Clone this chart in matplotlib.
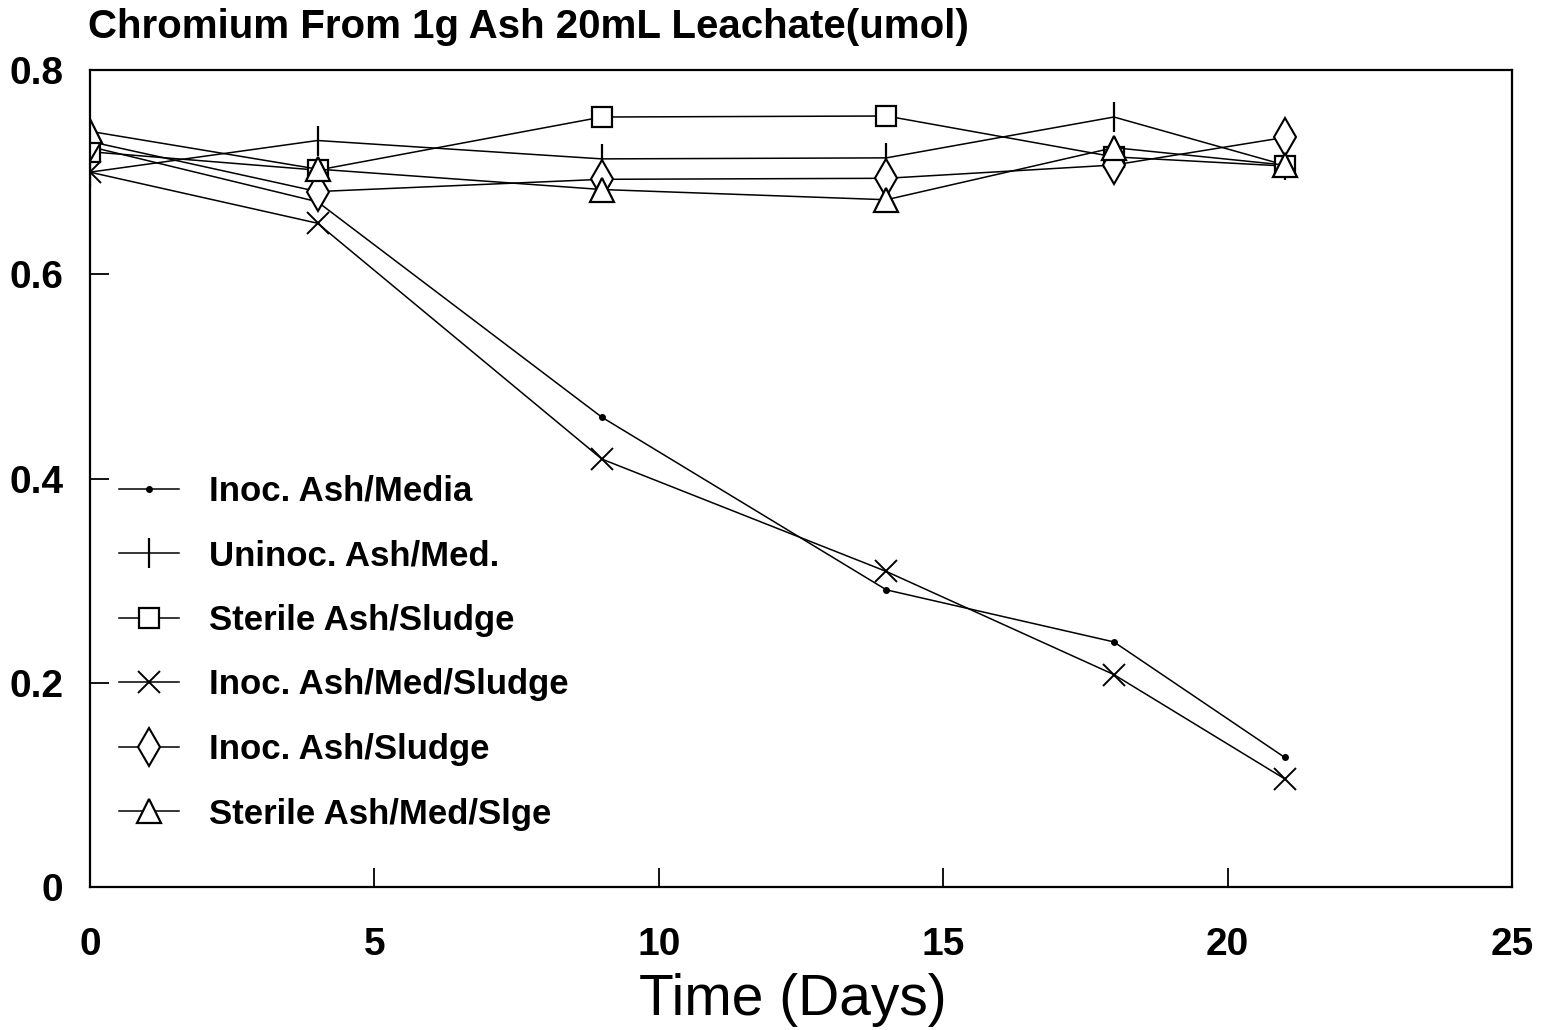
import matplotlib
matplotlib.use("Agg")
import matplotlib.pyplot as plt

# sampling days
days = [0, 4, 9, 14, 18, 21]

# chromium in leachate (umol) per treatment
inoc_ash_media = [0.725, 0.671, 0.460, 0.291, 0.240, 0.127]
uninoc_ash_med = [0.700, 0.731, 0.713, 0.714, 0.754, 0.707]
sterile_ash_sludge = [0.720, 0.702, 0.754, 0.755, 0.715, 0.706]
inoc_ash_med_sludge = [0.700, 0.650, 0.419, 0.309, 0.208, 0.106]
inoc_ash_sludge = [0.730, 0.681, 0.693, 0.694, 0.707, 0.734]
sterile_ash_med_slge = [0.740, 0.703, 0.683, 0.673, 0.724, 0.707]

labels = ["Inoc. Ash/Media", "Uninoc. Ash/Med.", "Sterile Ash/Sludge",
          "Inoc. Ash/Med/Sludge", "Inoc. Ash/Sludge", "Sterile Ash/Med/Slge"]
x_ticks = [0, 5, 10, 15, 20, 25]
y_ticks = [0, 0.2, 0.4, 0.6, 0.8]
y_tick_labels = ["0", "0.2", "0.4", "0.6", "0.8"]

plt.rcParams['font.family'] = ['Liberation Sans', 'DejaVu Sans']

fig = plt.figure(figsize=(15.43, 10.30), dpi=100)
ax = fig.add_axes([0.0583, 0.1388, 0.9217, 0.7932])

series = [inoc_ash_media, uninoc_ash_med, sterile_ash_sludge,
          inoc_ash_med_sludge, inoc_ash_sludge, sterile_ash_med_slge]
styles = [
    dict(marker='o', markersize=4, markerfacecolor='black'),
    dict(marker='|', markersize=22, markeredgewidth=1.6),
    dict(marker='s', markersize=14, markerfacecolor='white', markeredgewidth=1.6),
    dict(marker='x', markersize=16, markeredgewidth=1.4),
    dict(marker='d', markersize=19, markerfacecolor='white', markeredgewidth=1.5),
    dict(marker='^', markersize=17, markerfacecolor='white', markeredgewidth=1.6),
]
for vals, lab, st in zip(series, labels, styles):
    ax.plot(days, vals, color='black', linewidth=1.1, label=lab,
            markeredgecolor='black', **st)

ax.set_xlim(0, 25)
ax.set_ylim(0, 0.8)
ax.set_xticks(x_ticks)
ax.set_yticks(y_ticks)
ax.set_yticklabels(y_tick_labels)
ax.tick_params(direction='in', length=14, width=1.3, labelsize=28)
ax.tick_params(axis='x', pad=29)
ax.tick_params(axis='y', pad=19)
for t in ax.get_xticklabels() + ax.get_yticklabels():
    t.set_fontweight('bold')
for s in ax.spines.values():
    s.set_linewidth(1.6)

ax.set_xlabel("Time (Days)", fontsize=41, labelpad=5)
ax.xaxis.set_label_coords(0.494, -0.105)
fig.text(0.057, 0.955, "Chromium From 1g Ash 20mL Leachate(umol)",
         fontsize=29, fontweight='bold', ha='left', va='bottom')

leg = ax.legend(loc='upper left', bbox_to_anchor=(0.008, 0.526), frameon=False,
                prop={'size': 25, 'weight': 'bold'}, handlelength=1.73,
                handletextpad=0.86, labelspacing=0.91, borderpad=0)

fig.savefig("out.png", dpi=100, facecolor='white')
